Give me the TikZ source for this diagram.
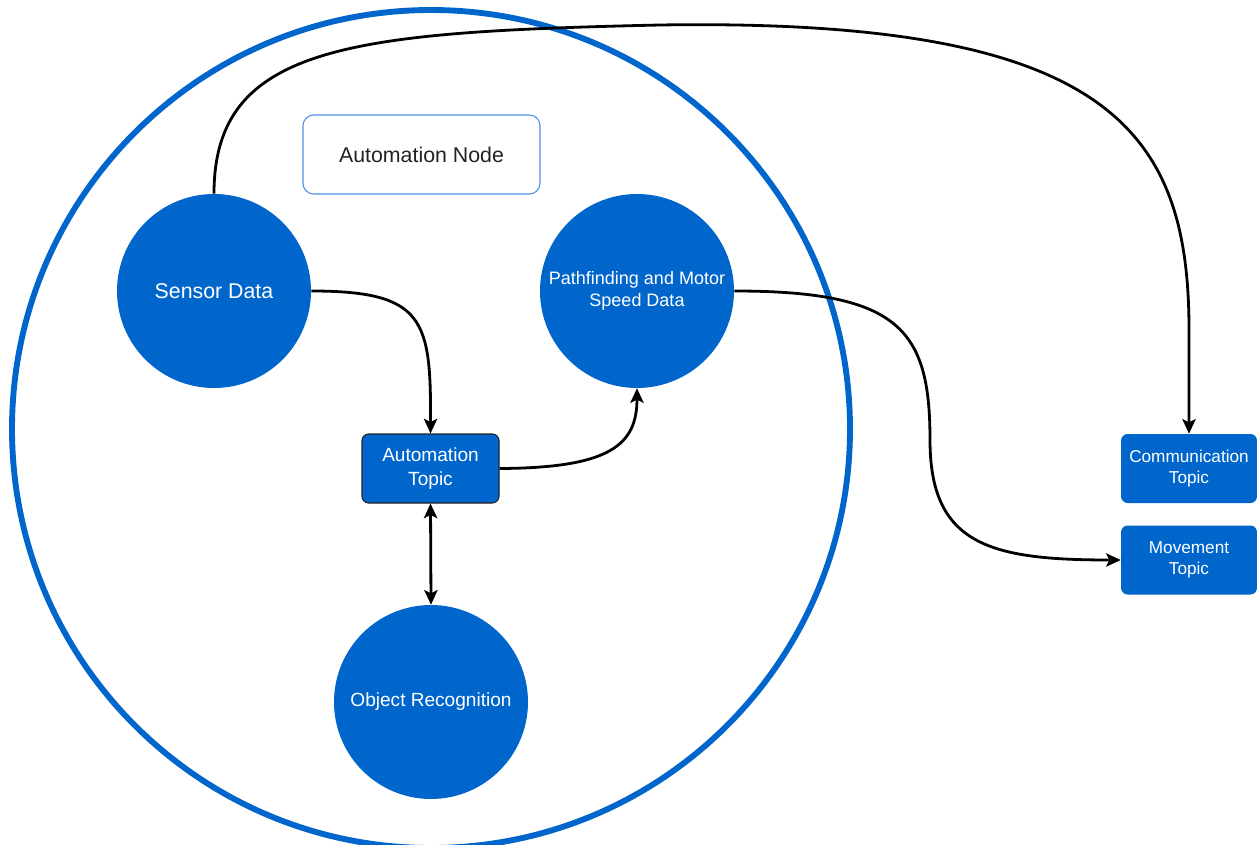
\documentclass[tikz,border=0pt]{standalone}
\usepackage{fontspec}
\setmainfont{Liberation Sans}
\usetikzlibrary{arrows.meta}
\definecolor{dblue}{HTML}{0066CC}
\definecolor{lblue}{HTML}{4A90E2}
\definecolor{dkgray}{HTML}{222222}
\tikzset{
  bubble/.style={circle, fill=dblue, draw=none, minimum size=194*0.75pt, inner sep=0pt, text=white, align=center},
  topicbox/.style={rectangle, rounded corners=5pt, fill=dblue, text=white, align=center, inner sep=0pt, minimum height=69*0.75pt},
  link/.style={draw=black, line width=2.1pt, -{Stealth[length=11pt,width=10pt,inset=2.5pt]}},
  dlink/.style={draw=black, line width=2.1pt, {Stealth[length=11pt,width=10pt,inset=2.5pt]}-{Stealth[length=11pt,width=10pt,inset=2.5pt]}},
}
\begin{document}
\begin{tikzpicture}[x=0.75pt,y=-0.75pt]
\useasboundingbox (0,0) rectangle (1257,845);
\draw[dblue, line width=4.4pt] (431,429) circle [radius=419];
\node[draw=lblue, line width=0.8pt, rounded corners=8pt, minimum width=237*0.75pt, minimum height=79*0.75pt, inner sep=0pt, font=\fontsize{16}{19}\selectfont, text=dkgray] (anode) at (421.5,154.5) {Automation Node};
\node[bubble, font=\fontsize{16}{19}\selectfont] (sensor) at (214,291) {Sensor Data};
\node[bubble, font=\fontsize{13.5}{17}\selectfont] (path) at (637,291) {Pathfinding and Motor\\Speed Data};
\node[bubble, font=\fontsize{14.3}{17}\selectfont] (obj) at (431,702) {Object Recognition};
\node[topicbox, draw=dkgray, line width=0.8pt, minimum width=137*0.75pt, font=\fontsize{14.3}{18}\selectfont] (atopic) at (430.5,468.5) {Automation\\Topic};
\node[topicbox, minimum width=136*0.75pt, font=\fontsize{12.9}{16}\selectfont] (ctopic) at (1189,468.5) {Communication\\Topic};
\node[topicbox, minimum width=136*0.75pt, font=\fontsize{12.9}{16}\selectfont] (mtopic) at (1189,560) {Movement\\Topic};
\draw[link] (sensor.east) .. controls (425,291) and (431,320) .. (atopic.north);
\draw[link] (atopic.east) .. controls (610,468) and (637,445) .. (path.south);
\draw[dlink] (atopic.south) -- (obj.north);
\draw[link] (sensor.north) .. controls (214,45) and (350,32) .. (660,25) .. controls (1110,18) and (1189,130) .. (1189,330) -- (ctopic.north);
\draw[link] (path.east) .. controls (900,291) and (930,330) .. (930,440) .. controls (930,545) and (990,560) .. (mtopic.west);
\end{tikzpicture}
\end{document}
